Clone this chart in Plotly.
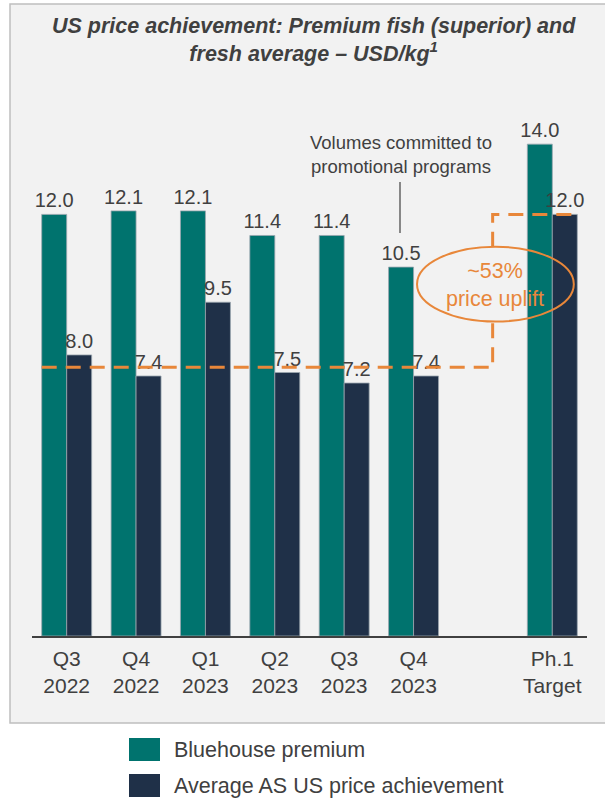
import plotly.graph_objects as go

# ---- data ----
categories = ["Q3<br>2022", "Q4<br>2022", "Q1<br>2023", "Q2<br>2023", "Q3<br>2023", "Q4<br>2023", "Ph.1<br>Target"]
bluehouse_premium = [12.0, 12.1, 12.1, 11.4, 11.4, 10.5, 14.0]
avg_as_us_price = [8.0, 7.4, 9.5, 7.5, 7.2, 7.4, 12.0]
series_names = ["Bluehouse premium", "Average AS US price achievement"]
baseline_level = 7.65   # dashed reference level (historical average)
target_level = 12.0
uplift_text = "~53%<br>price uplift"
note_text = "Volumes committed to<br>promotional programs"
title_text = "<b><i>US price achievement: Premium fish (superior) and<br>fresh average – USD/kg<sup>1</sup></i></b>"

# ---- styles ----
TEAL = "#00736e"
NAVY = "#1f3048"
ORANGE = "#e8873a"
TXT = "#404040"
BG = "#f2f2f2"
FONT = "Liberation Sans, Arial, sans-serif"

W, H = 605, 798
L, R, T, B = 32, 18, 109, 162
PW, PH = W - L - R, H - T - B

def px(xp):
    return (xp - L) / PW

def py(yp):
    return (H - B - yp) / PH

# x positions: a blank slot before the target
x_pos = list(range(len(categories) - 1)) + [len(categories)]

fig = go.Figure()
for name, vals, col in [(series_names[0], bluehouse_premium, TEAL), (series_names[1], avg_as_us_price, NAVY)]:
    fig.add_trace(go.Bar(
        x=x_pos, y=vals, name=name,
        marker=dict(color=col, line=dict(color="#9aa6ae", width=0.8)),
        text=[f"{v:.1f}" for v in vals], textposition="outside",
        textfont=dict(size=20, color=TXT, family=FONT),
        constraintext="none", cliponaxis=False, showlegend=False,
        hoverinfo="skip",
    ))

shapes = []
# panel background
shapes.append(dict(type="rect", xref="paper", yref="paper", layer="below",
                   x0=px(10), x1=px(660), y0=py(723), y1=py(4),
                   fillcolor=BG, line=dict(color="#bfbfbf", width=1.5)))
# dashed uplift line
xl, xv, xr = -0.36, 6.14, 7.36
e_y0, e_y1 = 8.95, 11.08
dash = dict(color=ORANGE, width=3, dash="15px,9px")
shapes.append(dict(type="path", xref="x", yref="y",
                   path=f"M {xl},{baseline_level} L {xv},{baseline_level} L {xv},{e_y0}", line=dash))
shapes.append(dict(type="path", xref="x", yref="y",
                   path=f"M {xv},{e_y1} L {xv},{target_level} L {xr},{target_level}", line=dash))
# ellipse
shapes.append(dict(type="circle", xref="x", yref="y", x0=5.05, x1=7.31, y0=e_y0, y1=e_y1,
                   line=dict(color=ORANGE, width=2)))
# note pointer
shapes.append(dict(type="line", xref="paper", yref="paper", x0=px(400), x1=px(400),
                   y0=py(182), y1=py(233), line=dict(color=TXT, width=1.2)))
# legend squares
shapes.append(dict(type="rect", xref="paper", yref="paper", x0=px(129), x1=px(160),
                   y0=py(761), y1=py(738), fillcolor=TEAL, line=dict(width=0)))
shapes.append(dict(type="rect", xref="paper", yref="paper", x0=px(129), x1=px(160),
                   y0=py(797), y1=py(774), fillcolor=NAVY, line=dict(width=0)))

def ann(x, y, text, size, color=TXT, xanchor="center"):
    return dict(xref="paper", yref="paper", x=px(x), y=py(y), text=text, showarrow=False,
                xanchor=xanchor, yanchor="middle", align="center",
                font=dict(size=size, color=color, family=FONT))

annotations = [
    ann(314, 40, title_text, 21.5),
    ann(495, 285, uplift_text, 21.5, ORANGE),
    ann(401, 154, note_text, 18.5),
    ann(172, 750, series_names[0], 21.5, xanchor="left"),
    ann(172, 786, series_names[1], 21.5, xanchor="left"),
]

fig.update_layout(
    width=W, height=H, margin=dict(l=L, r=R, t=T, b=B, autoexpand=False),
    paper_bgcolor="white", plot_bgcolor="rgba(0,0,0,0)",
    barmode="group", bargap=0.28, bargroupgap=0,
    font=dict(family=FONT, color=TXT),
    shapes=shapes, annotations=annotations, showlegend=False,
    xaxis=dict(range=[-0.5, 7.5], tickvals=x_pos, ticktext=categories, showgrid=False,
               zeroline=False, showline=True, linecolor=TXT, linewidth=1.5, ticks="",
               ticklabelstandoff=3, tickfont=dict(size=21, color=TXT, family=FONT)),
    yaxis=dict(range=[0, 15], visible=False),
)

fig.write_html("out.html", config={"displayModeBar": False},
               post_script="document.body.style.margin='0';document.body.style.overflow='hidden';")
